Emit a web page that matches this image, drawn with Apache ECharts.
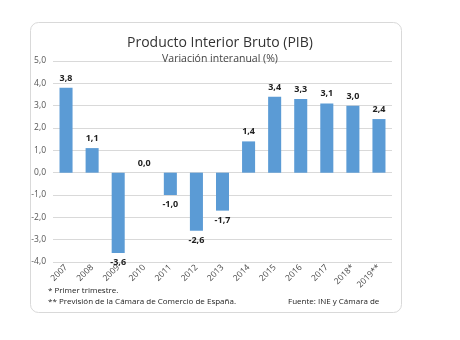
<!DOCTYPE html>
<html><head><meta charset="utf-8">
<script src="https://cdn.jsdelivr.net/npm/echarts@6/dist/echarts.min.js"></script>
<style>html,body{margin:0;padding:0;background:#fff}#c{width:460px;height:340px}</style>
</head><body><div id="c"></div>
<script>
const categories = ['2007','2008','2009','2010','2011','2012','2013','2014','2015','2016','2017','2018*','2019**'];
const values = [3.8, 1.1, -3.6, 0.0, -1.0, -2.6, -1.7, 1.4, 3.4, 3.3, 3.1, 3.0, 2.4];
const yTicks = [-4, -3, -2, -1, 0, 1, 2, 3, 4, 5];
const titleText = 'Producto Interior Bruto (PIB)';
const subtitleText = 'Variación interanual (%)';
const note1 = '* Primer trimestre.';
const note2 = '** Previsión de la Cámara de Comercio de España.';
const source = 'Fuente: INE y Cámara de';

const fmt = v => v.toFixed(1).replace('.', ',');
const chart = echarts.init(document.getElementById('c'), null, {renderer:'canvas'});
const font = '"Open Sans", "Liberation Sans", sans-serif';
chart.setOption({
  animation:false,
  backgroundColor:'#fff',
  graphic:[
    {type:'rect', shape:{x:30.5,y:22.5,width:371,height:290,r:8}, style:{fill:'#fff',stroke:'#d9d9d9',lineWidth:1}, z:-10},
    {type:'text', left:48, top:287, style:{text:note1, font:'8px '+font, fill:'#222'}},
    {type:'text', left:48, top:298, style:{text:note2, font:'8px '+font, fill:'#222'}},
    {type:'text', left:288, top:298, style:{text:source, font:'8px '+font, fill:'#222'}}
  ],
  title:{text:titleText, subtext:subtitleText, left:215, textAlign:'center', top:31, itemGap:4,
    textStyle:{fontFamily:font, fontSize:14, fontWeight:'normal', color:'#333'},
    subtextStyle:{fontFamily:font, fontSize:10.5, color:'#444'}},
  grid:{left:53, right:68, top:61, bottom:78, containLabel:false},
  xAxis:{type:'category', data:categories, position:'bottom',
    axisLine:{show:false, onZero:false}, axisTick:{show:false},
    axisLabel:{rotate:45, fontSize:8.5, color:'#444', fontFamily:font, margin:4, interval:0}},
  yAxis:{type:'value', min:yTicks[0], max:yTicks[yTicks.length-1], interval:1,
    axisLine:{show:false}, axisTick:{show:false},
    axisLabel:{formatter:fmt, fontSize:8.5, color:'#555', fontFamily:font, margin:7},
    splitLine:{lineStyle:{color:'#d9d9d9'}}},
  series:[{type:'bar', barWidth:'50%',
    data: values.map(v => ({value:v, label:{position: v < 0 ? 'bottom' : 'top'}})),
    itemStyle:{color:'#5b9bd5'},
    label:{show:true, formatter:p => fmt(p.value), fontSize:9, fontWeight:'bold', color:'#222', fontFamily:font, distance:5}
  }]
});
</script></body></html>
